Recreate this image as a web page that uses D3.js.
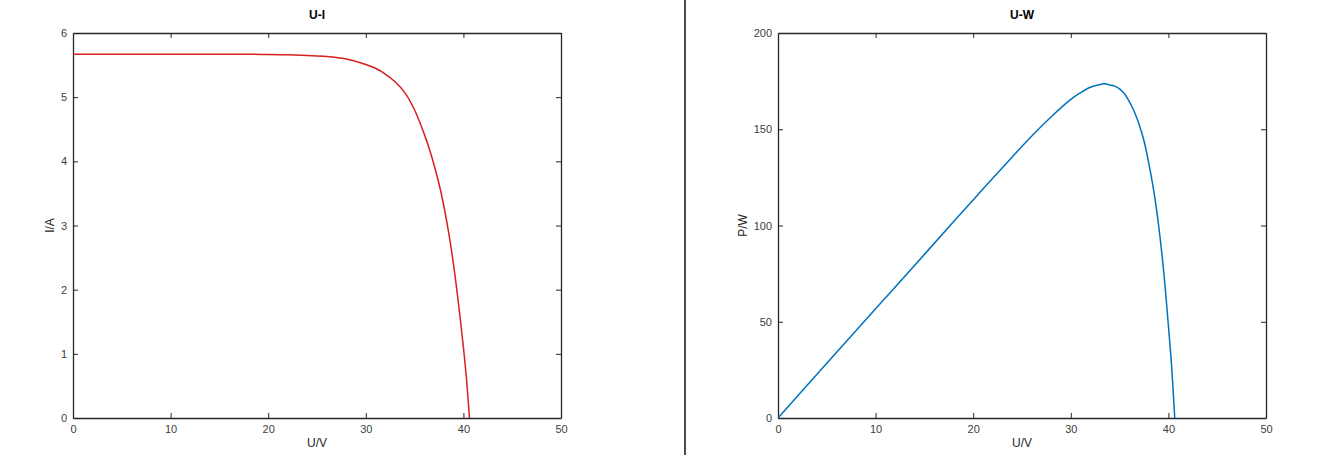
<!DOCTYPE html>
<html>
<head>
<meta charset="utf-8">
<script src="https://cdn.jsdelivr.net/npm/d3@7"></script>
<style>
  body { margin: 0; background: #fff; }
  svg { display: block; font-family: "Liberation Sans", Arial, sans-serif; }
  .axis path, .axis line { stroke: #262626; }
  .axis text { fill: #404040; font-size: 11px; }
</style>
</head>
<body>
<svg width="1340" height="455"></svg>
<script>
// U-I curve
const uCurrent = [0, 5, 10, 15, 18, 20, 22, 24, 26, 28, 30, 31, 32, 33, 34, 35, 36, 36.6, 37, 37.5, 38, 38.5, 39, 39.5, 40, 40.3, 40.62];
const current = [5.67, 5.67, 5.67, 5.67, 5.67, 5.665, 5.66, 5.65, 5.635, 5.595, 5.51, 5.45, 5.36, 5.24, 5.07, 4.80, 4.42, 4.15, 3.94, 3.65, 3.30, 2.88, 2.38, 1.78, 1.10, 0.64, 0];

// U-W curve
const uPower = [0, 5, 10, 15, 18, 20, 22, 24, 26, 28, 30, 31, 32, 33, 33.5, 34, 34.5, 35, 35.5, 36, 36.5, 37, 37.5, 38, 38.5, 39, 39.5, 40, 40.3, 40.65];
const power = [0, 28.4, 56.7, 85.0, 102.1, 113.3, 124.5, 135.6, 146.5, 156.5, 165.5, 169.0, 171.8, 173.3, 173.6, 173.0, 172.4, 171.0, 168.4, 164.4, 159.2, 152.5, 144.0, 132.0, 118.0, 100.0, 77.0, 48.0, 29.0, 0];

const xTicks = [0, 10, 20, 30, 40, 50];
const currentTicks = [0, 1, 2, 3, 4, 5, 6];
const powerTicks = [0, 50, 100, 150, 200];

const svg = d3.select('svg');

// divider between the two figures
svg.append('line')
  .attr('x1', 685).attr('x2', 685)
  .attr('y1', 0).attr('y2', 455)
  .attr('stroke', '#111')
  .attr('stroke-width', 1.5);

function drawPanel(opts) {
  const width = 488, height = 385;
  const g = svg.append('g').attr('transform', `translate(${opts.left}, 33)`);

  const x = d3.scaleLinear().domain([0, 50]).range([0, width]);
  const y = d3.scaleLinear().domain(opts.yDomain).range([height, 0]);

  // box with inward ticks on all four sides
  g.append('g').attr('class', 'axis')
    .attr('transform', `translate(0, ${height})`)
    .call(d3.axisBottom(x).tickValues(xTicks).tickFormat(d3.format('d'))
      .tickSizeInner(-5).tickSizeOuter(0).tickPadding(7));
  g.append('g').attr('class', 'axis')
    .call(d3.axisTop(x).tickValues(xTicks).tickSizeInner(-5).tickSizeOuter(0).tickFormat(''));
  g.append('g').attr('class', 'axis')
    .call(d3.axisLeft(y).tickValues(opts.yTicks).tickFormat(d3.format('d'))
      .tickSizeInner(-5).tickSizeOuter(0).tickPadding(6));
  g.append('g').attr('class', 'axis')
    .attr('transform', `translate(${width}, 0)`)
    .call(d3.axisRight(y).tickValues(opts.yTicks).tickSizeInner(-5).tickSizeOuter(0).tickFormat(''));

  g.selectAll('.axis path').attr('stroke-width', 1.3);

  const pts = opts.xs.map((u, i) => ({u: u, v: opts.ys[i]}));
  const line = d3.line()
    .x(d => x(d.u))
    .y(d => y(d.v))
    .curve(d3.curveCatmullRom.alpha(0.5));

  g.append('path')
    .datum(pts)
    .attr('fill', 'none')
    .attr('stroke', opts.color)
    .attr('stroke-width', 1.5)
    .attr('stroke-linejoin', 'round')
    .attr('d', line);

  g.append('text')
    .attr('x', width / 2).attr('y', -14)
    .attr('text-anchor', 'middle')
    .attr('font-size', 12).attr('font-weight', 'bold')
    .attr('fill', '#000')
    .text(opts.title);

  g.append('text')
    .attr('x', width / 2).attr('y', height + 29)
    .attr('text-anchor', 'middle')
    .attr('font-size', 12)
    .attr('fill', '#262626')
    .text('U/V');

  g.append('text')
    .attr('transform', `translate(${opts.yLabelX}, ${height / 2}) rotate(-90)`)
    .attr('text-anchor', 'middle')
    .attr('font-size', 12)
    .attr('fill', '#262626')
    .text(opts.yLabel);
}

drawPanel({
  left: 73, title: 'U-I', yLabel: 'I/A', yLabelX: -19,
  yDomain: [0, 6], yTicks: currentTicks,
  xs: uCurrent, ys: current, color: '#d91e1e'
});

drawPanel({
  left: 778, title: 'U-W', yLabel: 'P/W', yLabelX: -31,
  yDomain: [0, 200], yTicks: powerTicks,
  xs: uPower, ys: power, color: '#0072bd'
});
</script>
</body>
</html>
